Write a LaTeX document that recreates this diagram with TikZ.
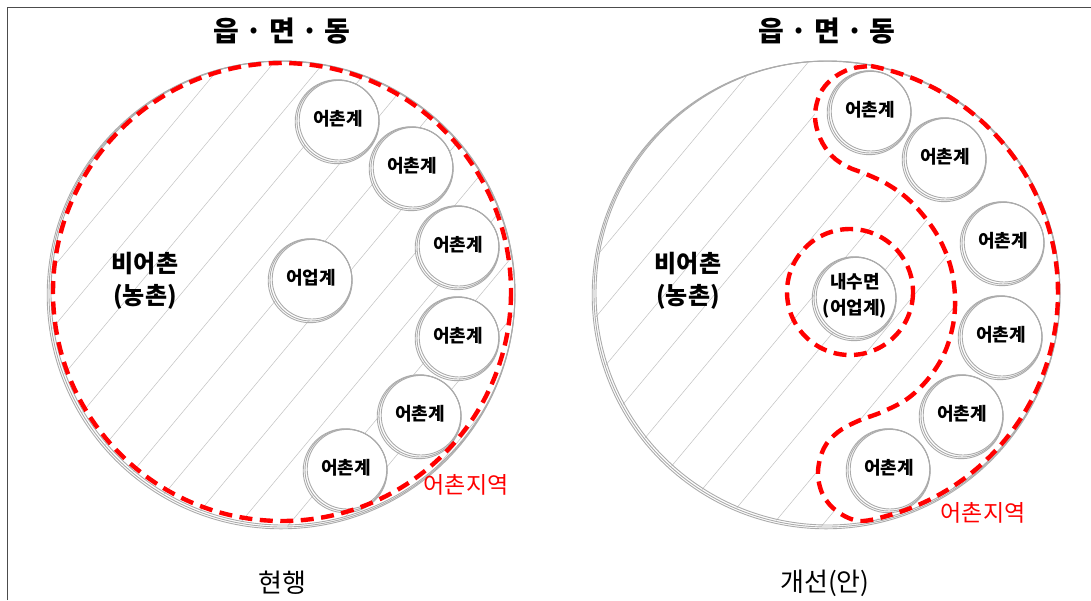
\documentclass[tikz,border=0pt]{standalone}
\usepackage{fontspec}
\setmainfont{Noto Sans CJK KR}
\usetikzlibrary{positioning}

\tikzset{
  sketch/.style={draw=black!33, line width=0.9pt},
  hatch/.style={draw=black!24, line width=0.5pt},
  reddash/.style={draw=red, line width=4.4pt, dash pattern=on 13pt off 7.5pt},
  village/.style={font=\bfseries\fontsize{18}{26}\selectfont, align=center, inner sep=0pt},
  heading/.style={font=\bfseries\fontsize{28}{30}\selectfont, inner sep=0pt},
  caption/.style={font=\fontsize{26}{28}\selectfont, inner sep=0pt},
  side/.style={font=\bfseries\fontsize{24}{32}\selectfont, align=center, inner sep=0pt},
  zone/.style={font=\fontsize{23}{25}\selectfont, text=red, inner sep=0pt}
}

% fishing zone of the proposal (outer arc + S-shaped inner border)
\newcommand{\fishzone}{(871,66) arc[start angle=-79, end angle=75, radius=231]
  -- plot[smooth, tension=0.6] coordinates {(887,516) (860,521) (838,512) (823,495)
  (818,472) (824,448) (838,432) (858,421) (882,412) (907,399) (928,379) (944,354)
  (953,325) (955,297) (951,268) (941,242) (927,220) (908,199) (887,184) (866,174)
  (848,167) (832,156) (820,138) (815,116) (820,94) (832,79) (850,69) (871,66)}}

\begin{document}
\begin{tikzpicture}[x=1pt, y=-1pt]
  \useasboundingbox (0,0) rectangle (1091,600);

  % frame
  \draw[line width=1.6pt, black!70] (7.5,600) -- (7.5,7.5) -- (1091,7.5);

  % ---------- left: current ----------
  \coordinate (L) at (282,294);
  \begin{scope}
    \clip (L) circle[radius=232];
    \foreach \k in {-574,-524,...,626}
      \draw[hatch] (\k,600) -- (\k+500,0);
  \end{scope}
  \draw[sketch] (L) circle[radius=233];
  \draw[sketch] (283,293) circle[radius=232];
  \draw[sketch] (281,295) circle[radius=233.8];

  % small circles
  \foreach \i/\x/\y/\t in {1/338/121/어촌계, 2/412/168/어촌계, 3/458/247/어촌계,
                           4/458/338/어촌계, 5/420/416/어촌계, 6/346/470/어촌계,
                           7/311/280/어업계} {
    \fill[white] (\x,\y) circle[radius=41];
    \draw[sketch] (\x,\y) circle[radius=41];
    \draw[sketch] (\x+1,\y-0.8) circle[radius=39.8];
    \draw[sketch] (\x-0.8,\y+0.7) circle[radius=42];
    \node[village] (lc\i) at (\x,\y-2) {\t};
  }

  % fishing zone
  \draw[reddash] (282,292) circle[radius=229];

  % labels
  \node[heading] (lhead) at (282,31) {읍 · 면 · 동};
  \node[side] (lside) at (145,281) {비어촌\\(농촌)};
  \node[zone] (lzone) at (466,485) {어촌지역};
  \node[caption] (lcap) at (282,583) {현행};

  % ---------- right: proposal ----------
  \coordinate (R) at (827,294);
  \begin{scope}
    \clip (R) circle[radius=232];
    \foreach \k in {-590,-540,...,1110}
      \draw[hatch] (\k,600) -- (\k+500,0);
    \fill[white] \fishzone;
  \end{scope}
  \draw[sketch] (R) circle[radius=233];
  \draw[sketch] (828,293) circle[radius=232];
  \draw[sketch] (826,295) circle[radius=233.8];

  % small circles
  \foreach \i/\x/\y in {1/870/112, 2/945/159, 3/1003/243,
                        4/1001/337, 5/962/416, 6/889/470} {
    \fill[white] (\x,\y) circle[radius=41];
    \draw[sketch] (\x,\y) circle[radius=41];
    \draw[sketch] (\x+1,\y-0.8) circle[radius=39.8];
    \draw[sketch] (\x-0.8,\y+0.7) circle[radius=42];
    \node[village] (rc\i) at (\x,\y-2) {어촌계};
  }

  % inland water
  \fill[white] (855,298) circle[radius=41];
  \draw[sketch] (855,298) circle[radius=41];
  \draw[sketch] (856,297.2) circle[radius=39.8];
  \draw[sketch] (854.2,298.7) circle[radius=42];
  \node[village] (inland) at (855,296) {내수면\\(어업계)};

  % fishing zones
  \draw[reddash] \fishzone;
  \draw[reddash] (850,292) circle[radius=63];

  % labels
  \node[heading] (rhead) at (827,31) {읍 · 면 · 동};
  \node[side] (rside) at (688,281) {비어촌\\(농촌)};
  \node[zone] (rzone) at (983,513) {어촌지역};
  \node[caption] (rcap) at (825,583) {개선(안)};
\end{tikzpicture}
\end{document}
